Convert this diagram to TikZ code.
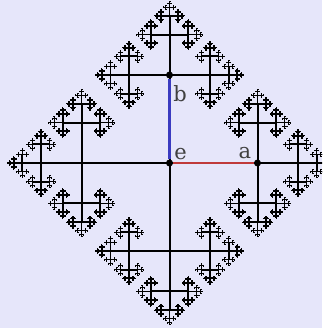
\documentclass[tikz,border=0pt]{standalone}
\usepackage{fontspec}
\setmainfont{DejaVu Serif}
\definecolor{bgcol}{RGB}{230,230,250}
\definecolor{edgered}{RGB}{192,58,58}
\definecolor{edgeblue}{RGB}{58,58,192}
\tikzset{
  dotnode/.style={circle,fill=black,inner sep=0pt,minimum size=7pt},
  lbl/.style={inner sep=0pt,anchor=base,font=\fontsize{21}{23}\selectfont,text=black!75},
  treeedge/.style={draw=black,line cap=butt},
}
\def\cgmax{7}
\def\cgratio{0.46}
\newcommand\cgtree[5]{%
\ifnum#5>\cgmax\relax\else
\begingroup
\ifcase#3\relax \def\cgdx{1}\def\cgdy{0}\def\cgl{1}\def\cgr{3}%
\or\def\cgdx{0}\def\cgdy{1}\def\cgl{2}\def\cgr{0}%
\or\def\cgdx{-1}\def\cgdy{0}\def\cgl{3}\def\cgr{1}%
\else\def\cgdx{0}\def\cgdy{-1}\def\cgl{0}\def\cgr{2}\fi
\pgfmathsetmacro\cgnx{#1+\cgdx*#4}%
\pgfmathsetmacro\cgny{#2+\cgdy*#4}%
\pgfmathsetmacro\cgnl{#4*\cgratio}%
\pgfmathsetmacro\cglw{#5<4 ? 2.0 : 2.0-0.2*(#5-3)}%
\draw[treeedge,line width=\cglw pt] (#1,#2) -- (\cgnx,\cgny);
\edef\cgnext{%
\noexpand\cgtree{\cgnx}{\cgny}{#3}{\cgnl}{\the\numexpr#5+1\relax}%
\noexpand\cgtree{\cgnx}{\cgny}{\cgl}{\cgnl}{\the\numexpr#5+1\relax}%
\noexpand\cgtree{\cgnx}{\cgny}{\cgr}{\cgnl}{\the\numexpr#5+1\relax}%
}%
\expandafter\endgroup\cgnext
\fi}
\begin{document}
\begin{tikzpicture}[x=1pt,y=-1pt]
\fill[bgcol] (0,0) rectangle (322,328);
\useasboundingbox (0,0) rectangle (322,328);
\clip (0,0) rectangle (322,328);
\cgtree{169.5}{163}{0}{88}{1}
\cgtree{169.5}{163}{1}{88}{1}
\cgtree{169.5}{163}{2}{88}{1}
\cgtree{169.5}{163}{3}{88}{1}
\node[dotnode] (e) at (169.5,163) {};
\node[dotnode] (a) at (257.5,163) {};
\node[dotnode] (b) at (169.5,75) {};
\draw[edgered,line width=2.2pt] (e) -- (a);
\draw[edgeblue,line width=2.2pt] (e) -- (b);
\node[lbl] (le) at (180.5,159.5) {e};
\node[lbl] (la) at (245,158.5) {a};
\node[lbl] (lb) at (180,101.5) {b};
\end{tikzpicture}
\end{document}
